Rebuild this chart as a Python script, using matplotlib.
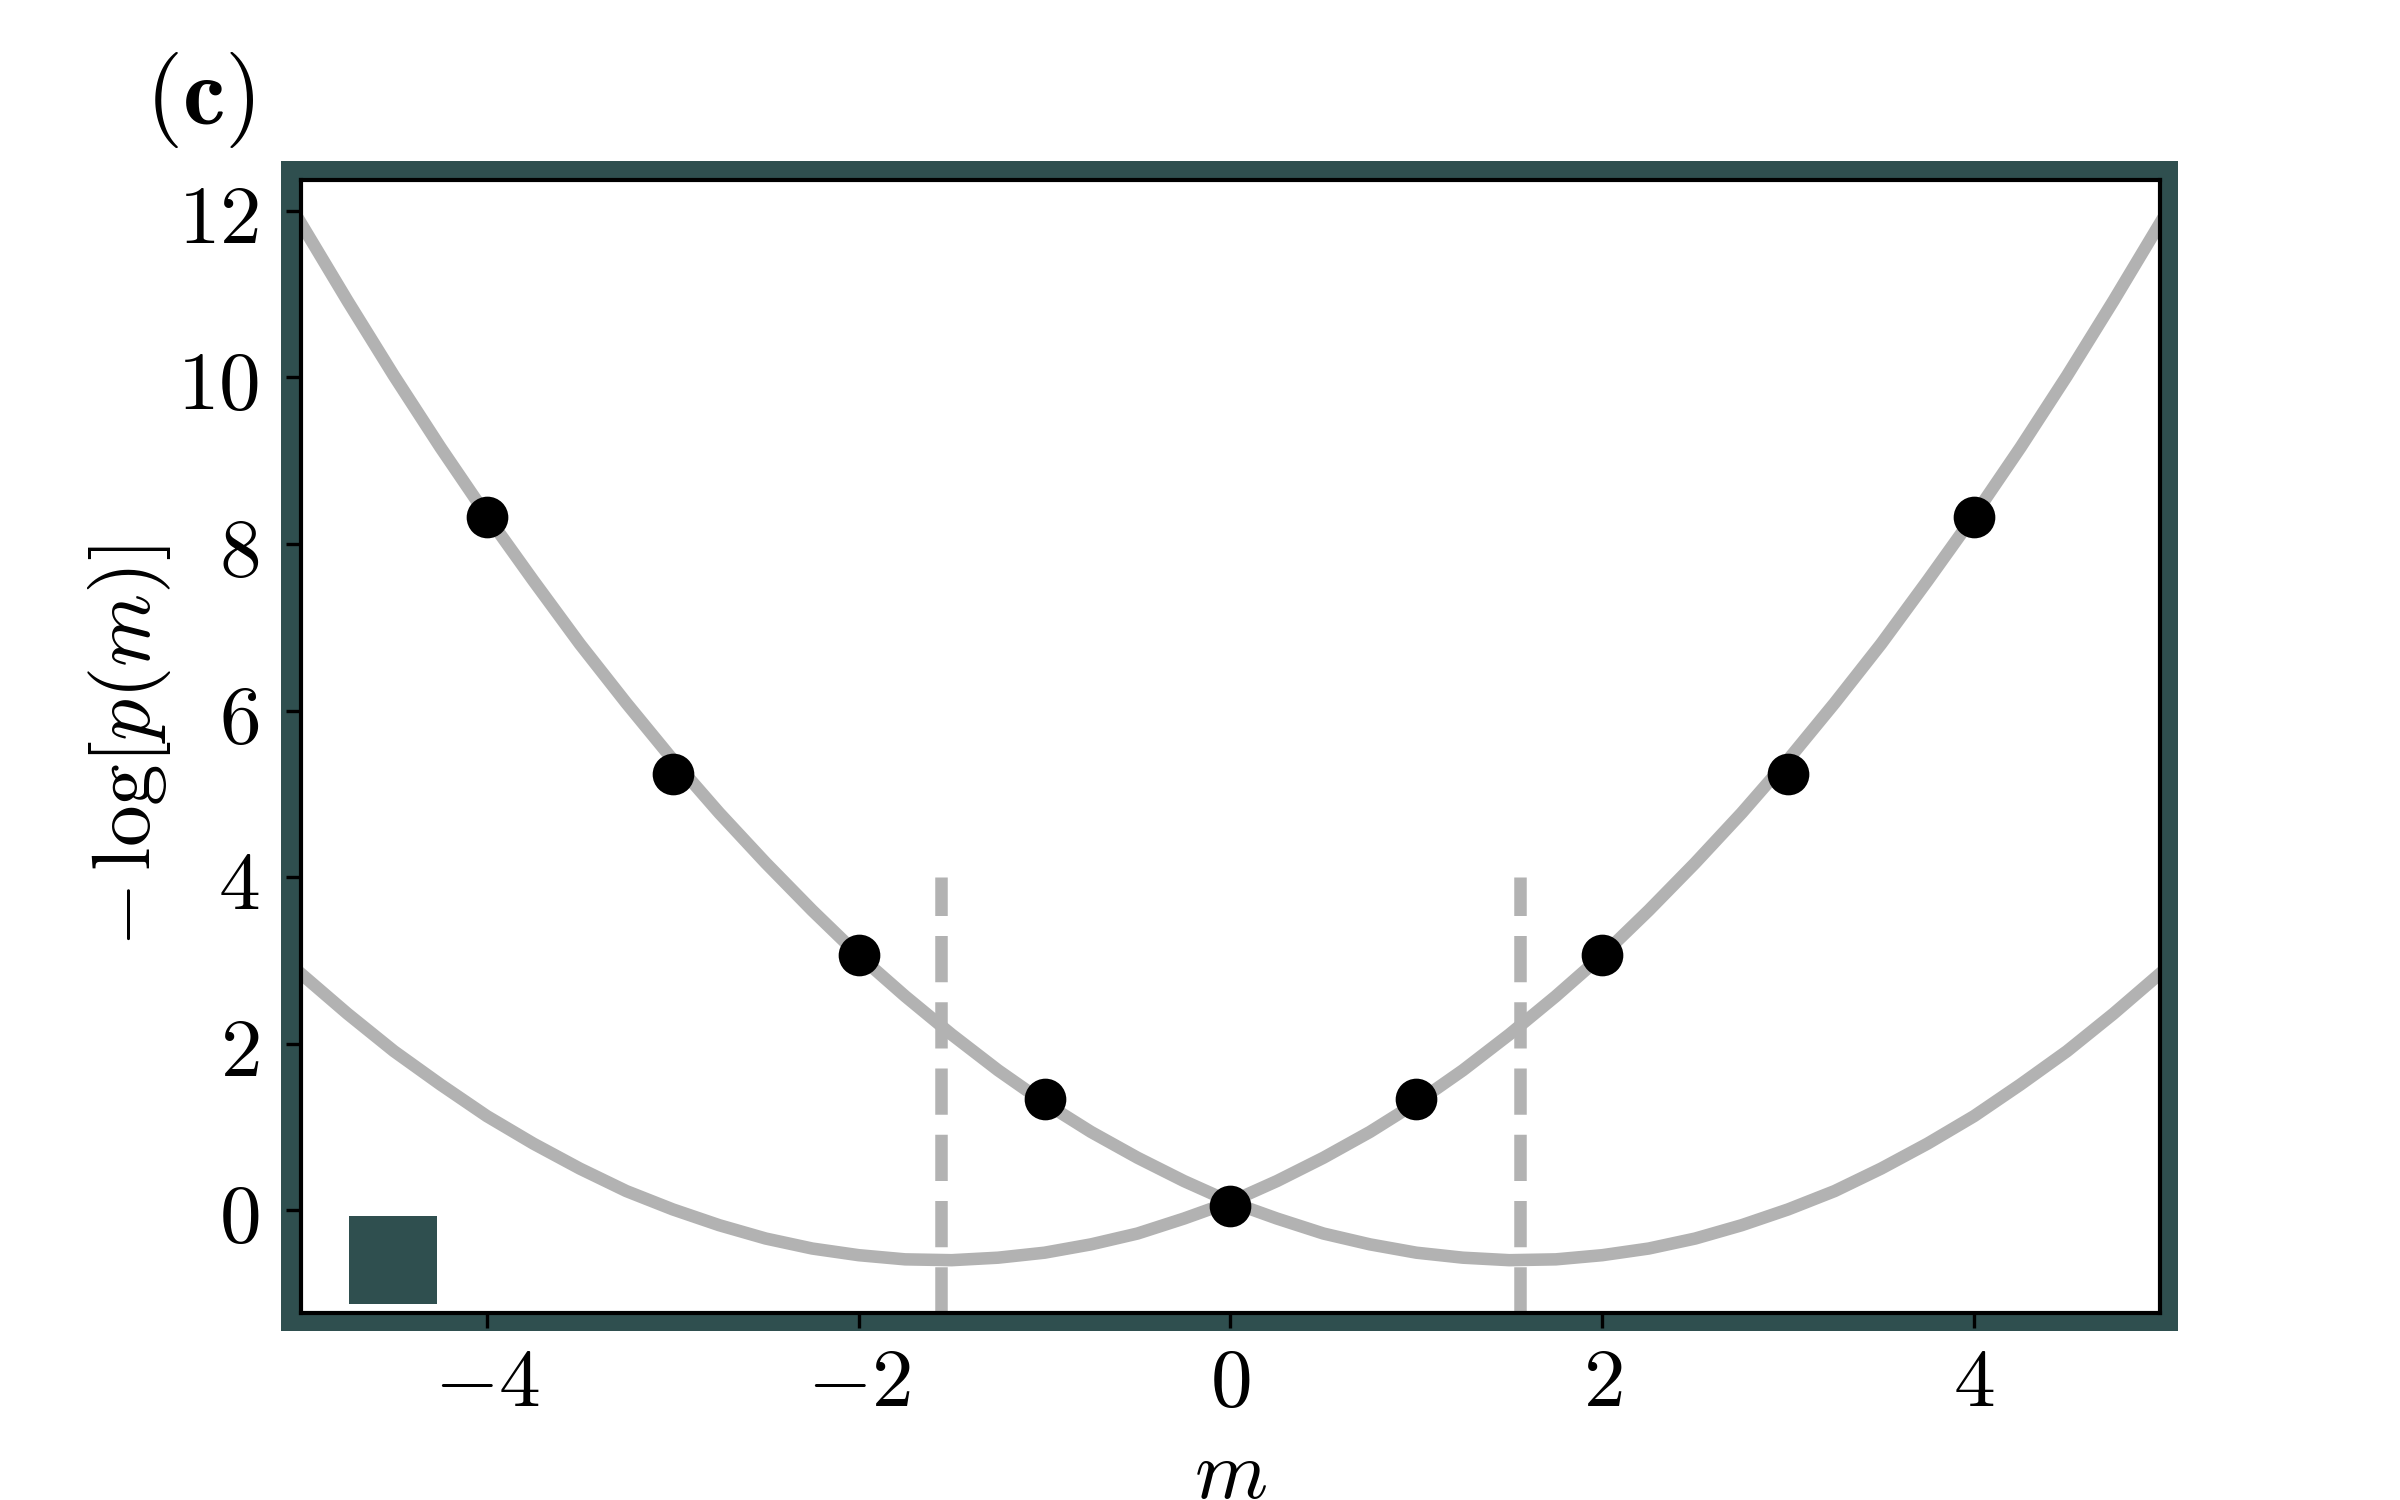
"""Negative log-probability curves, panel (c)."""
import matplotlib.pyplot as plt
from matplotlib.patches import Rectangle

plt.rcParams["mathtext.fontset"] = "cm"

# curve with its minimum on the right, every 0.25 in m
m_grid = [-5.0, -4.75, -4.5, -4.25, -4.0, -3.75, -3.5, -3.25, -3.0, -2.75,
          -2.5, -2.25, -2.0, -1.75, -1.5, -1.25, -1.0, -0.75, -0.5, -0.25,
          0.0, 0.25, 0.5, 0.75, 1.0, 1.25, 1.5, 1.75, 2.0, 2.25,
          2.5, 2.75, 3.0, 3.25, 3.5, 3.75, 4.0, 4.25, 4.5, 4.75, 5.0]
curve_right = [11.85, 10.92, 10.02, 9.16, 8.34, 7.56, 6.80, 6.09, 5.41, 4.77,
               4.17, 3.60, 3.06, 2.57, 2.11, 1.68, 1.29, 0.94, 0.63, 0.35,
               0.10, -0.10, -0.28, -0.41, -0.51, -0.57, -0.60, -0.59, -0.54, -0.46,
               -0.34, -0.18, 0.01, 0.23, 0.50, 0.80, 1.13, 1.51, 1.91, 2.36, 2.84]
# the other curve is its mirror image
curve_left = curve_right[::-1]

# sampled points
m_points = [-4, -3, -2, -1, 0, 1, 2, 3, 4]
nll_points = [8.32, 5.24, 3.06, 1.34, 0.05, 1.34, 3.06, 5.24, 8.32]

# minima of the two curves (dashed markers)
m_minima = [-1.555, 1.555]
dash_top = 4.0

x_ticks = [-4, -2, 0, 2, 4]
y_ticks = [0, 2, 4, 6, 8, 10, 12]

frame_color = "#2f4f4f"
curve_color = "#b2b2b2"

fig = plt.figure(figsize=(8, 5), dpi=300)
ax = fig.add_axes([0.1254, 0.1249, 0.7746, 0.7551])

# thick coloured frame around the axes
fig.patches.append(Rectangle((0.1171, 0.1127), 0.9077 - 0.1171, 0.8927 - 0.1127,
                             transform=fig.transFigure, facecolor=frame_color,
                             edgecolor="none", zorder=-1))

ylo, yhi = -1.23, 12.37
ax.plot(m_grid, curve_right, color=curve_color, lw=3, zorder=2)
ax.plot(m_grid, curve_left, color=curve_color, lw=3, zorder=2)
ax.vlines(m_minima, ylo, dash_top, colors=curve_color, linestyles="--", lw=3, zorder=2)
ax.plot(m_points, nll_points, "o", color="black", ms=9, zorder=3)

ax.add_patch(Rectangle((0.0258, 0.0077), 0.0473, 0.0777, transform=ax.transAxes,
                       facecolor=frame_color, edgecolor="none", zorder=4))

ax.set_xlim(-5, 5)
ax.set_ylim(ylo, yhi)
ax.set_xticks(x_ticks, [f"${v}$" for v in x_ticks])
ax.set_yticks(y_ticks, [f"${v}$" for v in y_ticks])
ax.tick_params(labelsize=20, direction="out", length=3.5, width=0.8)
ax.tick_params(axis="y", pad=6.5)
for s in ax.spines.values():
    s.set_linewidth(1.0)

ax.set_xlabel(r"$m$", fontsize=20)
ax.set_ylabel(r"$-\,\log[p(m)]$", fontsize=20)
ax.xaxis.set_label_coords(0.5, -0.107)
ax.yaxis.set_label_coords(-0.069, 0.5)

fig.text(0.0604, 0.9173, r"$(\mathbf{c})$", fontsize=23, va="baseline", ha="left")

fig.savefig("out.png", dpi=300)
plt.close()
